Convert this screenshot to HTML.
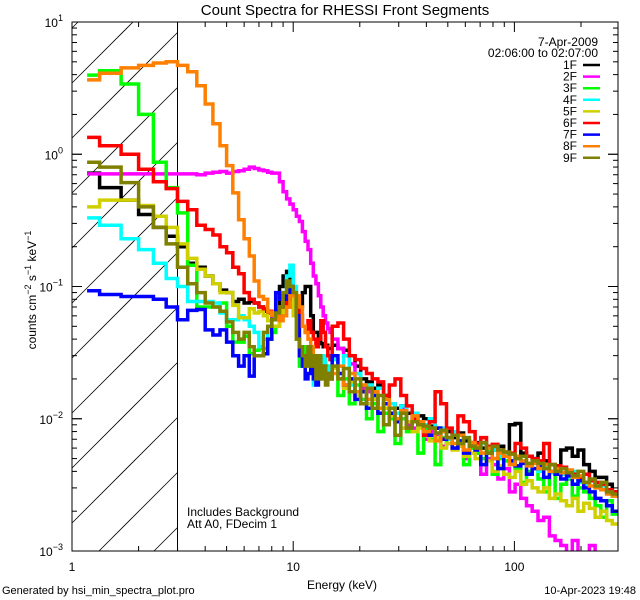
<!DOCTYPE html>
<html><head><meta charset="utf-8"><style>
html,body{margin:0;padding:0;background:#fff;width:640px;height:600px;overflow:hidden;}
svg{display:block;font-family:"Liberation Sans",sans-serif;}
</style></head><body>
<svg id="chart" width="640" height="600" viewBox="0 0 640 600" xmlns="http://www.w3.org/2000/svg">
<defs><clipPath id="plotclip"><rect x="72" y="22" width="546" height="529"/></clipPath></defs>
<rect x="0" y="0" width="640" height="600" fill="#fff"/>
<text x="345" y="15" text-anchor="middle" font-size="15">Count Spectra for RHESSI Front Segments</text>
<g id="hatch"></g>
<line x1="177.5" y1="22" x2="177.5" y2="551" stroke="#000" stroke-width="1"/>
<g id="series" clip-path="url(#plotclip)"></g>
<rect x="72" y="22" width="546" height="529" fill="none" stroke="#000" stroke-width="1"/>
<g id="axes"></g>
<text x="598" y="46" text-anchor="end" font-size="12">7-Apr-2009</text>
<text x="598" y="57" text-anchor="end" font-size="12">02:06:00 to 02:07:00</text>
<g id="legend"></g>
<text x="187" y="516" font-size="12">Includes Background</text>
<text x="187" y="528" font-size="12">Att A0, FDecim 1</text>
<text x="342" y="589" text-anchor="middle" font-size="12">Energy (keV)</text>
<text transform="translate(36,290) rotate(-90)" text-anchor="middle" font-size="12">counts cm<tspan dy="-5" font-size="9">−2</tspan><tspan dy="5"> s</tspan><tspan dy="-5" font-size="9">−1</tspan><tspan dy="5"> keV</tspan><tspan dy="-5" font-size="9">−1</tspan></text>
<text x="2" y="594" font-size="11">Generated by hsi_min_spectra_plot.pro</text>
<text x="636" y="594" text-anchor="end" font-size="11">10-Apr-2023 19:48</text>
</svg>
<script>
const seriesNames = ["1F","2F","3F","4F","5F","6F","7F","8F","9F"];
const seriesColors = ["#000000","#ff00ff","#00ff00","#00ffff","#d0d000","#ff0000","#0000ff","#ff8000","#808000"];
const xTickValues = [1,10,100];
const xTickLabels = ["1","10","100"];
const yTickExps = [1,0,-1,-2,-3];
const lowStart = 1.17;
const highRatioBins = 50;
const lowBlack = [0.72,0.56,0.45,0.35,0.28,0.24, 0.2,0.15,0.14,0.12,0.105,0.094,0.09,0.077,0.08,0.075, 0.077,0.075,0.07,0.065,0.063,0.06,0.065,0.1,0.12,0.13, 0.1,0.07,0.065,0.07,0.09,0.1,0.1,0.06,0.045,0.045, 0.04,0.037,0.035,0.036,0.034,0.034];
const lowMagenta = [0.71,0.71,0.71,0.71,0.71,0.71, 0.71,0.71,0.7,0.72,0.73,0.74,0.72,0.74,0.75,0.77, 0.8,0.78,0.76,0.75,0.73,0.72,0.72,0.62,0.52,0.46, 0.42,0.38,0.34,0.31,0.26,0.22,0.19,0.15,0.12,0.105, 0.085,0.07,0.06,0.053,0.048,0.045];
const lowGreen = [3.97,4.28,3.4,2.0,0.87,0.56, 0.36,0.145,0.07,0.07,0.07,0.075,0.05,0.038,0.038,0.042, 0.031,0.033,0.034,0.034,0.04,0.045,0.05,0.06,0.07,0.08, 0.085,0.07,0.04,0.025,0.03,0.035,0.03,0.025,0.028,0.022, 0.03,0.026,0.028,0.022,0.025,0.024];
const lowCyan = [0.33,0.29,0.23,0.19,0.15,0.115, 0.1,0.077,0.077,0.077,0.075,0.063,0.056,0.056,0.06,0.056, 0.05,0.045,0.035,0.04,0.05,0.06,0.06,0.07,0.09,0.12, 0.145,0.1,0.05,0.03,0.025,0.028,0.03,0.025,0.018,0.02, 0.022,0.025,0.03,0.024,0.022,0.025];
const lowYellow = [0.4,0.45,0.45,0.41,0.34,0.28, 0.21,0.163,0.135,0.12,0.105,0.09,0.09,0.072,0.058,0.058, 0.068,0.063,0.065,0.06,0.055,0.05,0.05,0.06,0.08,0.09, 0.08,0.06,0.04,0.035,0.03,0.028,0.03,0.025,0.028,0.022, 0.025,0.022,0.024,0.02,0.022,0.02];
const lowRed = [1.34,1.16,1.0,0.77,0.62,0.55, 0.44,0.38,0.29,0.27,0.245,0.2,0.18,0.14,0.125,0.09, 0.08,0.075,0.07,0.068,0.065,0.06,0.065,0.07,0.08,0.07, 0.09,0.085,0.08,0.06,0.05,0.045,0.055,0.045,0.04,0.035, 0.04,0.055,0.045,0.035,0.03,0.028];
const lowBlue = [0.093,0.087,0.084,0.084,0.08,0.07, 0.056,0.066,0.067,0.047,0.043,0.047,0.038,0.03,0.025,0.03, 0.021,0.03,0.03,0.031,0.04,0.06,0.09,0.08,0.085,0.08, 0.1,0.085,0.06,0.03,0.025,0.02,0.022,0.025,0.02,0.018, 0.02,0.022,0.025,0.02,0.022,0.02];
const lowOrange = [3.65,4.1,4.5,4.7,4.9,5.0, 4.7,4.2,3.3,2.4,1.7,1.16,0.82,0.51,0.32,0.23, 0.17,0.11,0.084,0.08,0.064,0.06,0.06,0.055,0.06,0.07, 0.085,0.09,0.085,0.07,0.05,0.045,0.04,0.035,0.03,0.03, 0.028,0.025,0.025,0.022,0.02,0.02];
const lowOlive = [0.87,0.8,0.61,0.4,0.28,0.21, 0.14,0.105,0.09,0.075,0.07,0.065,0.054,0.045,0.04,0.045, 0.035,0.03,0.03,0.045,0.05,0.056,0.063,0.07,0.09,0.11, 0.1,0.09,0.04,0.035,0.03,0.025,0.035,0.025,0.03,0.02, 0.03,0.02,0.025,0.018,0.022,0.02];
const highBlack = [0.036,0.034,0.033,0.03,0.025, 0.02,0.019,0.017,0.018,0.015, 0.013,0.012,0.0125,0.011,0.01, 0.0105,0.01,0.0088,0.0085,0.0082, 0.008,0.0072,0.0078,0.0068,0.0066, 0.0066,0.006,0.0062,0.0058,0.0062, 0.0056,0.009,0.0092,0.0055,0.0052, 0.005,0.0055,0.0048,0.0045,0.0044, 0.0058,0.006,0.0052,0.0058,0.0045, 0.004,0.0036,0.0036,0.0032,0.0028];
const highMagenta = [0.04,0.034,0.03,0.026,0.022, 0.017,0.016,0.014,0.012,0.013, 0.011,0.0095,0.012,0.009,0.0085, 0.009,0.007,0.008,0.0075,0.0062, 0.007,0.006,0.0068,0.005,0.006, 0.0055,0.0038,0.005,0.0045,0.0035, 0.0042,0.0028,0.0032,0.0025,0.0022, 0.002,0.0017,0.0018,0.0013,0.0012, 0.0011,0.0009,0.0012,0.0008,0.0009, 0.0011,0.0008,0.0009,0.0007,0.0008];
const highGreen = [0.025,0.015,0.02,0.013,0.018, 0.014,0.01,0.013,0.008,0.011, 0.01,0.0065,0.01,0.008,0.0095, 0.0055,0.0085,0.007,0.0045,0.0072, 0.0065,0.006,0.0068,0.0045,0.006, 0.0055,0.005,0.0058,0.0038,0.005, 0.0048,0.0045,0.0042,0.0033,0.004, 0.0042,0.0035,0.0028,0.004,0.0025, 0.0032,0.0035,0.0026,0.003,0.0028, 0.0025,0.0022,0.0018,0.0024,0.0019];
const highCyan = [0.028,0.02,0.03,0.018,0.022, 0.016,0.018,0.014,0.017,0.012, 0.013,0.011,0.0125,0.0095,0.011, 0.0095,0.009,0.01,0.0078,0.0085, 0.007,0.008,0.0068,0.0072,0.0062, 0.006,0.0065,0.0055,0.0058,0.0052, 0.0055,0.0048,0.005,0.0046,0.0044, 0.0046,0.004,0.0044,0.0039,0.004, 0.0038,0.0036,0.004,0.0033,0.0032, 0.0034,0.003,0.0031,0.0028,0.0026];
const highYellow = [0.024,0.02,0.017,0.019,0.015, 0.016,0.013,0.014,0.011,0.012, 0.0105,0.01,0.0085,0.0095,0.008, 0.0085,0.0075,0.0068,0.0072,0.006, 0.0065,0.0058,0.0062,0.0052,0.0055, 0.005,0.0045,0.0048,0.004,0.0044, 0.0038,0.0036,0.004,0.0032,0.0034, 0.003,0.0028,0.003,0.0025,0.0027, 0.0024,0.0022,0.0025,0.002,0.0023, 0.0021,0.0018,0.002,0.0017,0.0016];
const highRed = [0.05,0.053,0.04,0.03,0.028, 0.024,0.022,0.02,0.019,0.015, 0.018,0.02,0.015,0.0125,0.01, 0.009,0.0075,0.0095,0.016,0.013, 0.0085,0.0075,0.0105,0.0095,0.008, 0.0065,0.0072,0.0062,0.0064,0.0058, 0.0056,0.0055,0.0065,0.006,0.0052, 0.005,0.0048,0.0065,0.0045,0.0044, 0.0043,0.004,0.0038,0.0036,0.0038, 0.0034,0.0033,0.0032,0.0029,0.0028];
const highBlue = [0.03,0.022,0.018,0.02,0.014, 0.016,0.012,0.015,0.011,0.013, 0.011,0.0095,0.011,0.0085,0.0095, 0.009,0.008,0.0075,0.0085,0.007, 0.0072,0.006,0.0068,0.0055,0.0062, 0.0058,0.0045,0.0055,0.005,0.0042, 0.0052,0.0048,0.0044,0.0046,0.0038, 0.0042,0.0044,0.0036,0.004,0.0038, 0.0035,0.0037,0.0032,0.0034,0.003, 0.0028,0.0025,0.0024,0.0022,0.002];
const highOrange = [0.022,0.025,0.018,0.022,0.016, 0.018,0.014,0.016,0.012,0.014, 0.012,0.01,0.0115,0.0085,0.0105, 0.0095,0.008,0.0085,0.0068,0.008, 0.0072,0.0065,0.0075,0.0058,0.0066, 0.0062,0.0055,0.006,0.005,0.0055, 0.0052,0.0045,0.0052,0.0048,0.0044, 0.0046,0.0042,0.0045,0.004,0.0042, 0.0039,0.0041,0.0036,0.0037,0.0033, 0.0031,0.003,0.0029,0.0027,0.0026];
const highOlive = [0.025,0.02,0.024,0.016,0.02, 0.013,0.017,0.012,0.015,0.009, 0.012,0.0075,0.011,0.0085,0.0095, 0.009,0.0088,0.0085,0.0078,0.0082, 0.0072,0.0075,0.0065,0.0072,0.0062, 0.006,0.0066,0.0055,0.0062,0.0058, 0.0056,0.0054,0.005,0.0052,0.0046, 0.0048,0.0046,0.0042,0.0045,0.004, 0.0042,0.0039,0.0037,0.004,0.0033, 0.0035,0.0031,0.0033,0.0028,0.0027];
const lowSeries = [lowBlack,lowMagenta,lowGreen,lowCyan,lowYellow,lowRed,lowBlue,lowOrange,lowOlive];
const highSeries = [highBlack,highMagenta,highGreen,highCyan,highYellow,highRed,highBlue,highOrange,highOlive];

const NS = "http://www.w3.org/2000/svg";
const X0 = 72, X1 = 618, Y0 = 22, Y1 = 551, XH = 177.5;
const xMinE = 1, xMaxE = 294, yMaxExp = 1, yMinExp = -3;
function xs(e){ return X0 + (Math.log10(e) - Math.log10(xMinE)) / (Math.log10(xMaxE) - Math.log10(xMinE)) * (X1 - X0); }
function ys(v){ return Y0 + (yMaxExp - Math.log10(v)) / (yMaxExp - yMinExp) * (Y1 - Y0); }
function mk(tag, attrs, parent){ const el = document.createElementNS(NS, tag); for (const k in attrs) el.setAttribute(k, attrs[k]); parent.appendChild(el); return el; }

const edges = [lowStart];
for (let k = 0; k <= 41; k++) edges.push(4/3 + k/3);
const ratio = Math.pow(xMaxE / 15, 1 / highRatioBins);
for (let j = 1; j <= highRatioBins; j++) edges.push(15 * Math.pow(ratio, j));

// hatching: 45-degree lines y = c - (x - X0), clipped manually to hatch box
const hatch = document.getElementById('hatch');
for (let c = 28; c < Y1 + (XH - X0); c += 55) {
  let xa = X0, ya = c;
  if (ya > Y1) { xa = X0 + (ya - Y1); ya = Y1; }
  let xb = XH, yb = c - (XH - X0);
  if (yb < Y0) { xb = X0 + (c - Y0); yb = Y0; }
  if (xa >= xb) continue;
  const ln = mk('line', {x1: xa, y1: ya, x2: xb, y2: yb, stroke: '#000', 'stroke-width': 0.8}, hatch);
  
  
}

const sg = document.getElementById('series');
seriesNames.forEach((name, si) => {
  const vals = lowSeries[si].concat(highSeries[si]);
  let d = 'M' + xs(edges[0]).toFixed(1) + ' ' + Math.min(Y1 + 3, ys(vals[0])).toFixed(1);
  for (let i = 0; i < vals.length; i++) {
    if (i > 0) d += ' V' + Math.min(Y1 + 3, ys(vals[i])).toFixed(1);
    d += ' H' + Math.min(X1, xs(edges[i + 1])).toFixed(1);
  }
  const p = mk('path', {d: d, fill: 'none', stroke: seriesColors[si], 'stroke-width': 3.5, 'stroke-linejoin': 'miter'}, sg);
  
  
});

const ax = document.getElementById('axes');
for (let dec = 0; dec < 3; dec++) {
  for (let m = 1; m <= 9; m++) {
    const e = m * Math.pow(10, dec);
    if (e > xMaxE) break;
    const x = xs(e);
    const len = m === 1 ? 10 : 5;
    const t1 = mk('line', {x1: x, y1: Y1, x2: x, y2: Y1 - len, stroke: '#000', 'stroke-width': 1}, ax);
    
    
    const t2 = mk('line', {x1: x, y1: Y0, x2: x, y2: Y0 + len, stroke: '#000', 'stroke-width': 1}, ax);
    
    
  }
}
xTickValues.forEach((v, i) => {
  const t = mk('text', {x: xs(v), y: 571, 'text-anchor': 'middle', 'font-size': 12}, ax);
  t.textContent = xTickLabels[i];
  
  
});
for (let ex = yMinExp; ex < yMaxExp; ex++) {
  for (let m = 1; m <= 10; m++) {
    const v = m * Math.pow(10, ex);
    const y = ys(v);
    const len = (m === 1 || m === 10) ? 10 : 5;
    const a = mk('line', {x1: X0, y1: y, x2: X0 + len, y2: y, stroke: '#000', 'stroke-width': 1}, ax);
    
    
    const b = mk('line', {x1: X1, y1: y, x2: X1 - len, y2: y, stroke: '#000', 'stroke-width': 1}, ax);
    
    
  }
}
yTickExps.forEach(ex => {
  const y = ys(Math.pow(10, ex));
  const t = mk('text', {x: 63, y: y + 5, 'text-anchor': 'end', 'font-size': 12}, ax);
  
  
  const base = document.createElementNS(NS, 'tspan'); base.textContent = '10'; t.appendChild(base);
  const sup = document.createElementNS(NS, 'tspan'); sup.setAttribute('dy', '-6'); sup.setAttribute('font-size', '9');
  sup.textContent = ex < 0 ? '−' + (-ex) : String(ex); t.appendChild(sup);
});

const lg = document.getElementById('legend');
seriesNames.forEach((name, i) => {
  const y = 65 + i * 11.6;
  const t = mk('text', {x: 577, y: y + 4, 'text-anchor': 'end', 'font-size': 12}, lg);
  t.textContent = name;
  
  
  const l = mk('line', {x1: 583, y1: y, x2: 600, y2: y, stroke: seriesColors[i], 'stroke-width': 2.5}, lg);
  
  
});
</script>
</body></html>
